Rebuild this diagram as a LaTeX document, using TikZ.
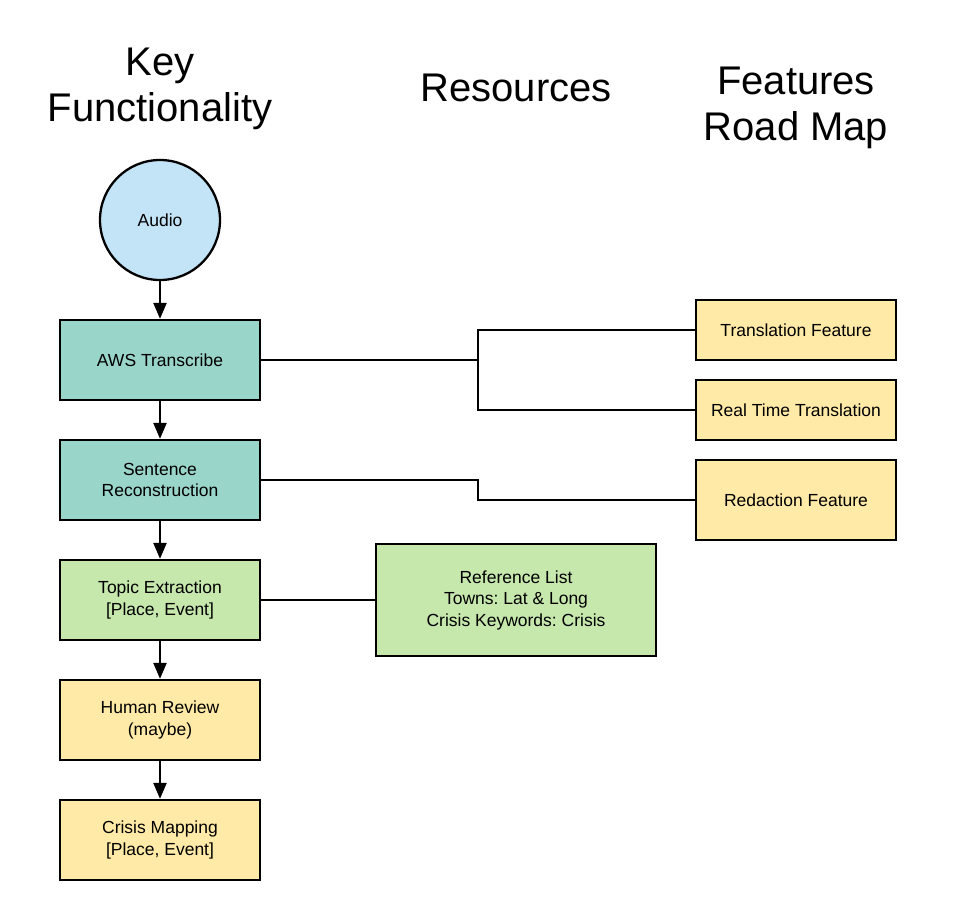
\documentclass[tikz,border=0pt]{standalone}
\usepackage{fontspec}
\setmainfont{Liberation Sans}
\usetikzlibrary{arrows.meta}
\definecolor{cblue}{HTML}{C3E4F6}
\definecolor{cteal}{HTML}{9AD5CA}
\definecolor{cgreen}{HTML}{C6E8AD}
\definecolor{cyellow}{HTML}{FFEAA7}
\frenchspacing
\begin{document}
\frenchspacing
\begin{tikzpicture}[x=1pt,y=-1pt,
  every node/.style={font=\fontsize{17.5}{21.5}\selectfont\frenchspacing, align=center},
  box/.style={draw=black, line width=2.3pt, minimum width=200pt, minimum height=80pt, inner sep=0pt},
  title/.style={font=\fontsize{40}{46}\selectfont, align=center},
  conn/.style={draw=black, line width=2.3pt},
  arr/.style={conn, -{Triangle[length=16pt,width=13pt]}}
]
\useasboundingbox (0,0) rectangle (956,920);
% titles
\node[title] (t1) at (160,89) {Key\\Functionality};
\node[title] (t2) at (516,88) {Resources};
\node[title] (t3) at (796,108) {Features\\Road Map};
% left column
\node[draw=black, line width=2.3pt, fill=cblue, circle, minimum size=120pt, inner sep=0pt] (audio) at (160,220) {Audio};
\node[box, fill=cteal] (aws) at (160,360) {AWS Transcribe};
\node[box, fill=cteal] (sent) at (160,480) {Sentence\\Reconstruction};
\node[box, fill=cgreen] (topic) at (160,600) {Topic Extraction\\{}[Place, Event]};
\node[box, fill=cyellow] (human) at (160,720) {Human Review\\(maybe)};
\node[box, fill=cyellow] (crisis) at (160,840) {Crisis Mapping\\{}[Place, Event]};
% right column
\node[box, fill=cyellow, minimum height=60pt] (trans) at (796,330) {Translation Feature};
\node[box, fill=cyellow, minimum height=60pt] (rtt) at (796,410) {Real Time Translation};
\node[box, fill=cyellow] (red) at (796,500) {Redaction Feature};
% resources
\node[box, fill=cgreen, minimum width=280pt, minimum height=112pt] (ref) at (516,600) {Reference List\\Towns: Lat \& Long\\Crisis Keywords: Crisis};
% arrows
\draw[arr] (audio) -- (aws);
\draw[arr] (aws) -- (sent);
\draw[arr] (sent) -- (topic);
\draw[arr] (topic) -- (human);
\draw[arr] (human) -- (crisis);
% connectors
\coordinate (j1) at (478,360);
\draw[conn] (aws.east) -- (j1);
\draw[conn] (j1) |- (trans.west);
\draw[conn] (j1) |- (rtt.west);
\draw[conn] (sent.east) -- (478,480) -- (478,500) -- (red.west);
\draw[conn] (topic.east) -- (ref.west);
\end{tikzpicture}
\end{document}
